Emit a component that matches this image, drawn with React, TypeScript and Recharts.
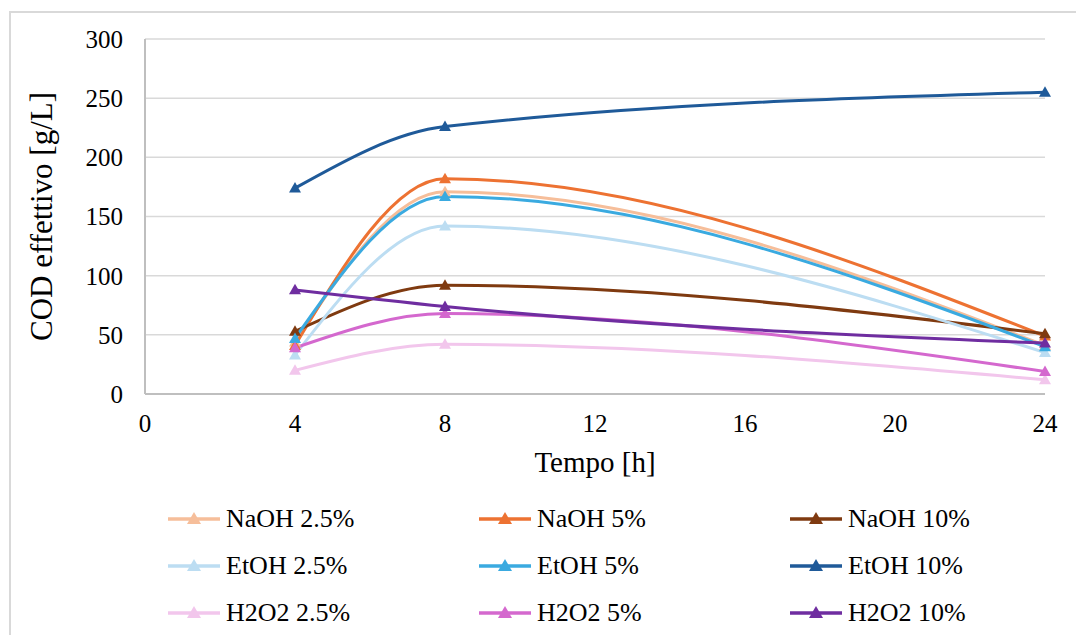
import React from 'react';
import { LineChart, Line, XAxis, YAxis, CartesianGrid, Label } from 'recharts';

// Tempo [h]
const hours = [4, 8, 24];

// COD effettivo [g/L]
const naoh25 = [44, 171, 41];
const naoh5 = [41, 182, 49];
const naoh10 = [53, 92, 51];
const etoh25 = [33, 142, 35];
const etoh5 = [47, 167, 40];
const etoh10 = [174, 226, 255];
const h2o2_25 = [20, 42, 12];
const h2o2_5 = [39, 68, 19];
const h2o2_10 = [88, 74, 43];

const xTicks = [0, 4, 8, 12, 16, 20, 24];
const yTicks = [0, 50, 100, 150, 200, 250, 300];

const seriesList = [
  { key: 'naoh25', name: 'NaOH 2.5%', values: naoh25, color: '#F6BE9A' },
  { key: 'naoh5', name: 'NaOH 5%', values: naoh5, color: '#ED7232' },
  { key: 'naoh10', name: 'NaOH 10%', values: naoh10, color: '#7F3A10' },
  { key: 'etoh25', name: 'EtOH 2.5%', values: etoh25, color: '#BCDDF2' },
  { key: 'etoh5', name: 'EtOH 5%', values: etoh5, color: '#3AAAE0' },
  { key: 'etoh10', name: 'EtOH 10%', values: etoh10, color: '#1F5A99' },
  { key: 'h2o225', name: 'H2O2 2.5%', values: h2o2_25, color: '#F2C6EC' },
  { key: 'h2o25', name: 'H2O2 5%', values: h2o2_5, color: '#D468CE' },
  { key: 'h2o210', name: 'H2O2 10%', values: h2o2_10, color: '#6F2DA0' },
];

const data = hours.map((h, i) => {
  const row: any = { h };
  seriesList.forEach((s) => {
    row[s.key] = s.values[i];
  });
  return row;
});

const FONT = '"Liberation Serif", "Times New Roman", serif';

const Triangle = (props: any) => {
  const { cx, cy, fill } = props;
  if (cx == null || cy == null) return null;
  const r = 6;
  return (
    <polygon
      points={`${cx},${cy - r} ${cx - r},${cy + r * 0.75} ${cx + r},${cy + r * 0.75}`}
      fill={fill}
    />
  );
};

const LegendIcon = ({ color }: { color: string }) => (
  <svg width={52} height={16} style={{ marginRight: 6 }}>
    <line x1={0} y1={8} x2={52} y2={8} stroke={color} strokeWidth={3.5} />
    <polygon points="26,1 19,13 33,13" fill={color} />
  </svg>
);

const legendCols = [168, 479, 790];
const legendRows = [519, 566, 613];

export default function App() {
  return (
    <div
      style={{
        position: 'absolute',
        left: 0,
        top: 0,
        width: 1076,
        height: 635,
        background: '#fff',
        overflow: 'hidden',
        fontFamily: FONT,
      }}
    >
      <div
        style={{
          position: 'absolute',
          left: 9,
          top: 11,
          width: 1100,
          height: 700,
          borderLeft: '2px solid #d9d9d9',
          borderTop: '2px solid #d9d9d9',
        }}
      />
      <LineChart
        width={1076}
        height={635}
        data={data}
        margin={{ top: 39, right: 31, left: 20, bottom: 151 }}
        style={{ position: 'absolute', left: 0, top: 0 }}
      >
        <CartesianGrid vertical={false} stroke="#d9d9d9" strokeWidth={1.5} />
        <XAxis
          dataKey="h"
          type="number"
          domain={[0, 24]}
          ticks={xTicks}
          height={90}
          axisLine={{ stroke: '#bfbfbf', strokeWidth: 2 }}
          tickLine={false}
          tickMargin={14}
          tick={{ fill: '#000', fontSize: 25, fontFamily: FONT }}
        >
          <Label
            value="Tempo [h]"
            position="insideBottom"
            offset={12}
            style={{ fill: '#000', fontSize: 29, fontFamily: FONT }}
          />
        </XAxis>
        <YAxis
          type="number"
          domain={[0, 300]}
          ticks={yTicks}
          width={125}
          axisLine={{ stroke: '#bfbfbf', strokeWidth: 2 }}
          tickLine={false}
          tickMargin={16}
          tick={{ fill: '#000', fontSize: 25, fontFamily: FONT }}
        >
          <Label
            value="COD effettivo [g/L]"
            angle={-90}
            position="insideLeft"
            offset={21}
            style={{ fill: '#000', fontSize: 31, fontFamily: FONT, textAnchor: 'middle' }}
          />
        </YAxis>
        {seriesList.map((s) => (
          <Line
            key={s.key}
            dataKey={s.key}
            name={s.name}
            type="monotone"
            stroke={s.color}
            strokeWidth={3}
            dot={<Triangle fill={s.color} />}
            activeDot={false}
            isAnimationActive={false}
          />
        ))}
      </LineChart>
      {seriesList.map((s, i) => (
        <div
          key={s.key}
          style={{
            position: 'absolute',
            left: legendCols[i % 3],
            top: legendRows[Math.floor(i / 3)] - 15,
            height: 30,
            display: 'flex',
            alignItems: 'center',
            fontSize: 26,
            color: '#000',
            whiteSpace: 'nowrap',
          }}
        >
          <LegendIcon color={s.color} />
          <span>{s.name}</span>
        </div>
      ))}
    </div>
  );
}
